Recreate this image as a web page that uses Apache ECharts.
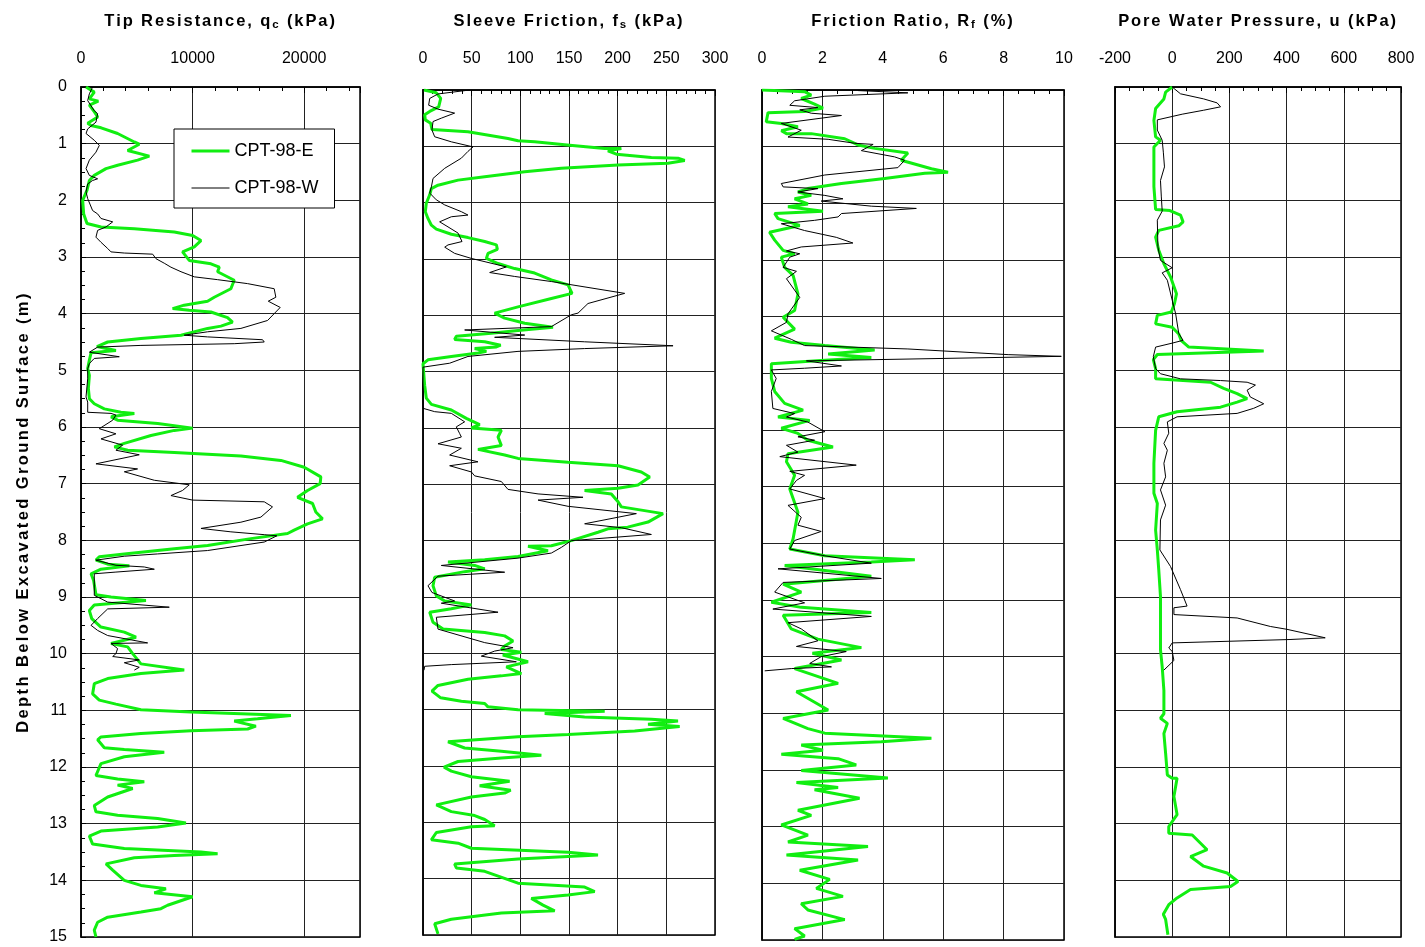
<!DOCTYPE html>
<html><head><meta charset="utf-8">
<script src="https://cdn.jsdelivr.net/npm/echarts@6/dist/echarts.min.js"></script>
<style>html,body{margin:0;padding:0;background:#fff}#c{width:1425px;height:947px}</style>
</head><body><div id="c"></div>
<script>
// ---------------- DATA ----------------
const seriesNames = ['CPT-98-E', 'CPT-98-W'];
const depthAxis = {min: 0, max: 15, major: 1, minor: 0.25};
const xScales = [
  {min: 0, max: 25000, major: 10000, minor: 2000},
  {min: 0, max: 300, major: 50, minor: 10},
  {min: 0, max: 10, major: 2, minor: 0.5},
  {min: -200, max: 800, major: 200, minor: 50}
];
const yAxisTitle = 'Depth Below Excavated Ground Surface (m)';

// Tip resistance qc (kPa) vs depth (m)
const qcE = [[450,0],[1190,0.09],[750,0.21],[1550,0.25],[750,0.32],[1200,0.44],[1500,0.53],[600,0.64],[900,0.68],[1800,0.72],[3280,0.82],[4780,0.97],[5220,1.01],[4180,1.12],[6120,1.22],[5070,1.29],[3280,1.38],[2240,1.44],[1190,1.56],[750,1.65],[540,1.82],[150,2.0],[240,2.24],[540,2.41],[1800,2.47],[4780,2.5],[8360,2.56],[10000,2.62],[10750,2.71],[10150,2.82],[9100,2.91],[9700,3.06],[11640,3.12],[12390,3.18],[12240,3.26],[13730,3.41],[13430,3.56],[11940,3.71],[11340,3.78],[9250,3.85],[8210,3.91],[9700,3.94],[11640,3.97],[13130,4.07],[13580,4.15],[12540,4.22],[11340,4.26],[8960,4.38],[5370,4.44],[2390,4.5],[1430,4.58],[3130,4.65],[900,4.69],[750,4.82],[600,4.97],[750,5.09],[660,5.32],[750,5.5],[1190,5.59],[2090,5.68],[3580,5.74],[4780,5.76],[2690,5.82],[3280,5.88],[6870,5.94],[10000,6.02],[8360,6.06],[6270,6.15],[3880,6.29],[2990,6.35],[4180,6.41],[8360,6.45],[14330,6.51],[17910,6.59],[20000,6.71],[21490,6.88],[21430,7.0],[20300,7.12],[19400,7.24],[20750,7.35],[21040,7.5],[21640,7.62],[20300,7.71],[19100,7.82],[18510,7.88],[15220,7.97],[11340,8.09],[8360,8.15],[3880,8.24],[1640,8.29],[1340,8.35],[2390,8.42],[4330,8.45],[1790,8.51],[900,8.59],[1130,8.71],[1250,8.85],[1340,8.96],[2690,9.0],[5820,9.06],[1190,9.14],[750,9.24],[960,9.38],[1790,9.53],[3880,9.62],[4930,9.71],[2690,9.82],[4180,9.88],[4630,10.0],[5370,10.18],[9250,10.29],[5370,10.35],[2390,10.44],[1190,10.53],[1040,10.71],[1640,10.82],[3130,10.89],[5370,10.99],[9850,11.03],[14330,11.06],[18810,11.09],[15820,11.15],[13730,11.19],[15670,11.28],[14930,11.33],[9850,11.36],[5370,11.41],[1790,11.47],[1490,11.52],[2090,11.66],[3880,11.69],[7460,11.74],[3880,11.82],[1790,11.94],[1340,12.15],[3280,12.21],[5670,12.26],[3280,12.32],[4630,12.38],[2390,12.53],[1190,12.68],[1340,12.79],[3280,12.85],[6870,12.91],[9400,12.99],[6870,13.06],[1790,13.13],[750,13.22],[1040,13.36],[3880,13.44],[10750,13.5],[12240,13.53],[8360,13.56],[4780,13.6],[2240,13.71],[2840,13.82],[3880,14.0],[5370,14.09],[7610,14.15],[6570,14.22],[10000,14.29],[7760,14.44],[7160,14.5],[5370,14.56],[2390,14.65],[1490,14.74],[1190,14.88],[1340,15.0]];
const qcW = [[1040,0],[750,0.12],[600,0.24],[1190,0.42],[1490,0.47],[1340,0.62],[600,0.74],[450,0.82],[1190,0.94],[1640,1.03],[1340,1.15],[750,1.29],[450,1.44],[750,1.56],[1490,1.62],[1040,1.65],[600,1.71],[450,1.85],[600,1.97],[1040,2.18],[1490,2.24],[1790,2.32],[2840,2.38],[2240,2.47],[1490,2.53],[1340,2.65],[1790,2.74],[2390,2.85],[2690,2.91],[3880,2.93],[6420,2.95],[6720,3.03],[7460,3.11],[8060,3.18],[8960,3.26],[10150,3.35],[12240,3.4],[14930,3.47],[17310,3.56],[17460,3.71],[16780,3.78],[17850,3.89],[17310,4.0],[16720,4.12],[14330,4.26],[11340,4.32],[9250,4.38],[11340,4.41],[16270,4.46],[16420,4.5],[13730,4.53],[5370,4.56],[1490,4.59],[750,4.68],[3430,4.76],[1190,4.79],[750,4.88],[600,4.97],[600,5.15],[450,5.47],[600,5.56],[600,5.74],[2690,5.76],[3130,5.79],[2840,5.88],[1640,6.03],[3130,6.12],[1790,6.21],[3730,6.32],[3130,6.41],[5220,6.49],[1340,6.65],[5070,6.74],[3880,6.79],[6570,6.94],[9700,7.02],[9100,7.12],[8060,7.21],[10000,7.29],[16420,7.32],[17160,7.41],[16120,7.59],[14330,7.68],[10750,7.79],[13430,7.85],[16420,7.9],[17550,7.92],[16420,8.03],[11340,8.18],[6870,8.24],[3880,8.28],[1340,8.35],[3130,8.44],[5670,8.47],[6570,8.51],[3130,8.56],[1190,8.59],[1190,8.97],[2390,9.09],[7910,9.18],[2390,9.21],[1490,9.38],[900,9.5],[1490,9.59],[2390,9.68],[5970,9.81],[2690,9.82],[3280,9.91],[3130,10.0],[2840,10.05],[5220,10.11],[3880,10.16],[5220,10.24],[4780,10.29]];

// Sleeve friction fs (kPa)
const fsE = [[1,0],[13.7,0.05],[18.2,0.15],[16.1,0.3],[6.9,0.38],[1.7,0.44],[2.4,0.53],[7.9,0.59],[9.2,0.7],[46.2,0.74],[87.3,0.86],[97.6,0.9],[114.7,0.92],[150.7,0.98],[186.7,1.04],[203.8,1.04],[190,1.08],[198.7,1.14],[234.6,1.2],[262,1.21],[268.9,1.25],[251.7,1.3],[200.4,1.33],[142.1,1.39],[104.5,1.45],[63.4,1.54],[36,1.6],[15.4,1.69],[8.6,1.75],[6.9,1.86],[3.4,2.01],[2.4,2.16],[5.1,2.28],[8.6,2.4],[13.7,2.47],[29.1,2.56],[46.2,2.62],[63.4,2.69],[75.4,2.75],[76.4,2.83],[66.8,2.9],[65.1,2.99],[77.1,3.08],[94.2,3.17],[114.7,3.25],[131.9,3.37],[149,3.46],[153.1,3.61],[131.9,3.7],[97.6,3.85],[73.6,3.96],[83.9,4.05],[104.5,4.14],[133.6,4.21],[97.6,4.27],[70.2,4.32],[34.3,4.37],[32.5,4.43],[63.4,4.47],[79.8,4.53],[75.4,4.56],[53.1,4.59],[65.1,4.64],[56.5,4.67],[29.1,4.73],[5.1,4.79],[0,4.86],[1.7,5.24],[3.4,5.47],[8.6,5.58],[29.1,5.68],[44.5,5.83],[58.2,5.94],[49.7,6.0],[80.5,6.04],[77.1,6.16],[80.5,6.31],[56.5,6.38],[83.9,6.48],[97.6,6.54],[149,6.61],[200.4,6.67],[224.3,6.78],[232.9,6.87],[220.9,7.01],[200.4,7.07],[166,7.11],[193.5,7.17],[200.4,7.31],[203.8,7.4],[246.6,7.52],[231.2,7.67],[210.3,7.76],[190,7.79],[179.8,7.85],[152.4,8.0],[131.9,8.09],[107.9,8.1],[128.4,8.18],[97.6,8.28],[63.4,8.34],[25.7,8.38],[53.1,8.44],[63.4,8.5],[42.8,8.55],[12,8.65],[10.3,8.8],[13.7,8.98],[22.3,9.07],[49.7,9.14],[29.1,9.21],[6.9,9.27],[10.3,9.45],[20.6,9.57],[63.4,9.63],[83.9,9.69],[92.5,9.78],[83.9,9.87],[80.5,9.93],[101,9.98],[82,10.03],[107.9,10.15],[85.6,10.24],[101,10.36],[80.5,10.4],[46.2,10.46],[15.4,10.57],[9.2,10.67],[18.2,10.79],[39.4,10.85],[63.4,10.89],[66.8,10.95],[97.6,11.0],[186.7,11.03],[125,11.07],[166,11.13],[234.6,11.17],[262,11.2],[231.2,11.26],[263.7,11.3],[217.5,11.38],[149,11.44],[97.6,11.48],[25.7,11.57],[42.8,11.68],[80.5,11.74],[121.6,11.81],[80.5,11.86],[36,11.92],[21.6,12.02],[29.1,12.09],[49.7,12.19],[89,12.27],[58.2,12.35],[90.1,12.43],[83.9,12.48],[49.7,12.55],[13.7,12.69],[29.1,12.81],[53.1,12.88],[63.4,12.95],[73.6,13.06],[49.7,13.08],[13.7,13.18],[8.6,13.31],[36,13.37],[49.7,13.46],[149,13.53],[179.8,13.58],[97.6,13.65],[32.5,13.74],[34.3,13.81],[63.4,13.87],[97.6,14.08],[166.1,14.15],[176.4,14.23],[149,14.29],[111.3,14.35],[123.3,14.47],[135.3,14.57],[80.5,14.61],[29.1,14.72],[12,14.8],[15.4,14.98]];
const fsW = [[48,0],[15.4,0.07],[6.9,0.15],[5.8,0.27],[15.4,0.34],[32.5,0.41],[18.8,0.5],[10.3,0.56],[9.2,0.71],[12,0.83],[29.1,0.92],[51.4,1.01],[46.2,1.09],[39.4,1.21],[22.3,1.39],[10.3,1.57],[8.6,1.72],[6.9,1.83],[13.7,1.95],[22.3,2.04],[39.4,2.16],[46.2,2.22],[29.1,2.25],[17.1,2.34],[25.7,2.43],[36,2.54],[40.1,2.69],[25.7,2.75],[22.3,2.79],[32.5,2.9],[49.7,2.99],[85.6,3.14],[68.5,3.24],[94.2,3.31],[131.9,3.4],[207.2,3.61],[169.5,3.79],[159.3,3.96],[152.4,3.99],[131.9,4.2],[42.8,4.26],[104.5,4.35],[73.6,4.39],[166.1,4.47],[256.9,4.54],[166.1,4.59],[97.6,4.64],[46.2,4.73],[27.4,4.85],[0,4.92],[0,5.65],[12,5.71],[29.1,5.74],[42.8,5.89],[34.2,5.98],[37.7,6.1],[39.4,6.16],[15.4,6.28],[39.4,6.36],[27.4,6.48],[56.5,6.6],[27.4,6.67],[49.7,6.78],[53.1,6.85],[80.5,6.95],[87.3,7.09],[118.2,7.17],[164.4,7.23],[118.2,7.28],[149,7.39],[219.2,7.52],[166.1,7.7],[203.8,7.77],[234.6,7.89],[152.4,8.0],[142.1,8.12],[131.9,8.22],[97.6,8.31],[18.8,8.44],[83.9,8.56],[15.4,8.63],[5.1,8.8],[9.2,8.92],[32.5,9.07],[18.8,9.11],[77.1,9.27],[13.7,9.36],[15.4,9.57],[63.4,9.81],[92.5,9.9],[73.6,9.96],[59.9,10.05],[95.9,10.15],[29.1,10.2],[1.7,10.23],[1,10.3]];

// Friction ratio Rf (%)
const rfE = [[0,0],[1.41,0.03],[1.63,0.09],[1.3,0.15],[1.74,0.25],[2.02,0.32],[1.41,0.38],[0.2,0.4],[0.14,0.56],[0.64,0.59],[1.19,0.65],[0.64,0.72],[0.81,0.77],[1.63,0.77],[2.74,0.86],[3.18,0.97],[3.73,1.03],[4.83,1.11],[4.61,1.24],[5.61,1.39],[6.16,1.45],[5.39,1.47],[4.06,1.56],[2.63,1.65],[1.52,1.74],[1.19,1.8],[1.63,1.86],[1.08,1.92],[1.52,2.01],[0.86,2.06],[2.02,2.14],[0.42,2.18],[0.53,2.27],[1.25,2.39],[0.25,2.51],[0.42,2.65],[0.7,2.83],[1.08,2.89],[0.64,2.95],[0.75,3.13],[1.03,3.27],[1.19,3.6],[1.08,3.89],[0.7,4.01],[1.08,4.22],[0.42,4.38],[0.97,4.45],[2.08,4.51],[3.73,4.59],[2.19,4.66],[3.62,4.72],[2.08,4.77],[0.31,4.83],[0.31,4.93],[0.31,5.09],[0.42,5.32],[0.75,5.53],[1.36,5.65],[0.53,5.77],[1.58,5.83],[0.64,5.97],[1.19,6.06],[1.52,6.18],[2.35,6.3],[0.86,6.42],[0.81,6.56],[1.08,6.8],[0.92,7.04],[1.19,7.45],[1.03,7.92],[0.92,8.1],[2.08,8.22],[5.06,8.29],[3.62,8.33],[0.75,8.39],[3.62,8.58],[0.7,8.72],[1.3,8.86],[0.31,9.04],[1.3,9.13],[3.62,9.22],[0.7,9.27],[0.97,9.51],[1.85,9.69],[3.29,9.84],[1.67,9.94],[2.63,10.06],[1.08,10.21],[2.52,10.47],[1.14,10.62],[2.19,10.94],[0.7,11.09],[1.52,11.27],[2.08,11.35],[5.61,11.44],[3.95,11.5],[1.3,11.56],[2.02,11.65],[0.64,11.72],[2.52,11.8],[3.12,11.91],[1.3,12.01],[4.17,12.14],[1.14,12.22],[2.52,12.31],[1.74,12.35],[3.23,12.5],[1.19,12.71],[1.63,12.8],[0.64,12.97],[1.52,13.15],[0.86,13.27],[3.51,13.35],[0.81,13.5],[3.18,13.59],[1.25,13.77],[2.24,13.93],[1.8,14.09],[2.68,14.23],[1.3,14.36],[1.52,14.47],[2.74,14.64],[1.08,14.8],[1.41,14.93],[1.08,14.99]];
const rfW = [[3.18,0.01],[4.83,0.05],[2.08,0.11],[1.08,0.19],[0.92,0.27],[1.85,0.31],[1.25,0.35],[1.63,0.41],[2.63,0.45],[0.64,0.59],[1.3,0.71],[0.86,0.83],[2.19,0.87],[3.07,0.94],[3.68,0.96],[3.29,1.07],[4.39,1.18],[4.72,1.24],[4.5,1.37],[2.08,1.5],[0.64,1.65],[0.7,1.71],[1.85,1.74],[1.19,1.8],[2.08,1.86],[2.68,1.92],[1.96,1.96],[3.62,2.05],[5.11,2.09],[2.63,2.18],[2.52,2.24],[1.74,2.3],[0.64,2.36],[1.41,2.48],[2.46,2.6],[3.01,2.7],[1.3,2.77],[0.81,2.84],[1.25,2.89],[0.92,2.95],[0.7,3.13],[1.14,3.2],[0.81,3.33],[1.25,3.66],[0.86,3.95],[0.81,4.1],[0.31,4.25],[0.97,4.4],[1.41,4.51],[4.83,4.57],[8.15,4.67],[9.91,4.7],[1.47,4.78],[2.63,4.87],[1.41,4.91],[0.31,4.94],[0.47,5.09],[0.31,5.32],[0.36,5.62],[1.08,5.71],[0.81,5.77],[1.52,5.86],[2.08,6.03],[1.19,6.12],[1.74,6.18],[0.81,6.27],[1.19,6.39],[0.59,6.47],[3.12,6.62],[0.92,6.73],[1.41,6.8],[1.14,6.89],[0.92,7.04],[2.08,7.21],[0.86,7.33],[1.3,7.54],[1.19,7.68],[1.96,7.79],[1.08,7.95],[0.92,8.1],[2.08,8.22],[3.62,8.35],[0.53,8.45],[3.95,8.62],[0.7,8.69],[0.42,8.86],[1.41,9.05],[0.36,9.16],[3.62,9.29],[0.86,9.4],[1.3,9.51],[1.85,9.72],[1.14,9.82],[2.79,9.91],[1.96,10.0],[1.58,10.12],[2.3,10.18],[0.97,10.21],[0.09,10.25]];

// Pore water pressure u (kPa)
const uE = [[0,0],[-23,0.09],[-29,0.21],[-58,0.38],[-64,0.59],[-58,0.88],[-41,0.94],[-64,1.06],[-64,1.41],[-64,1.76],[-58,2.16],[-8,2.18],[29,2.26],[38,2.38],[23,2.45],[-47,2.53],[-58,2.65],[-47,2.88],[-29,3.12],[-6,3.35],[15,3.65],[8,3.82],[-3,3.97],[-52,4.03],[-58,4.18],[0,4.24],[23,4.36],[31,4.47],[58,4.59],[320,4.66],[-52,4.72],[-66,4.81],[-58,4.97],[-58,5.15],[134,5.21],[180,5.32],[227,5.41],[262,5.5],[227,5.56],[169,5.65],[17,5.73],[-47,5.82],[-58,6.06],[-64,6.64],[-64,7.17],[-52,7.35],[-58,7.82],[-52,8.17],[-47,8.52],[-41,8.99],[-41,9.46],[-41,9.93],[-35,10.23],[-29,10.65],[-29,11.06],[-41,11.14],[-17,11.23],[-29,11.41],[-23,11.76],[-17,12.14],[0,12.2],[17,12.2],[6,12.52],[17,12.84],[-12,13.05],[-12,13.17],[70,13.2],[122,13.46],[64,13.58],[110,13.75],[192,13.87],[230,14.02],[204,14.11],[64,14.16],[17,14.31],[-12,14.43],[-31,14.6],[-23,14.69],[-15,14.96]];
const uW = [[0,0],[29,0.12],[110,0.21],[157,0.28],[169,0.35],[110,0.41],[35,0.48],[-52,0.58],[-52,0.76],[-35,0.94],[-31,1.15],[-27,1.41],[-41,1.65],[-38,1.94],[-35,2.19],[-52,2.35],[-50,2.82],[-41,3.06],[0,3.19],[-35,3.28],[-17,3.41],[0,3.76],[12,4.0],[23,4.35],[38,4.47],[0,4.52],[-58,4.59],[-66,4.76],[-58,4.97],[-41,5.06],[29,5.15],[169,5.18],[262,5.21],[291,5.26],[262,5.35],[273,5.47],[320,5.59],[285,5.67],[227,5.76],[17,5.82],[-17,5.91],[-12,6.11],[-29,6.29],[-17,6.41],[-29,6.64],[-23,6.88],[-41,7.11],[-23,7.38],[-41,7.64],[-43,8.17],[-6,8.46],[29,8.87],[52,9.16],[6,9.19],[6,9.31],[227,9.37],[343,9.52],[401,9.57],[535,9.72],[412,9.75],[0,9.81],[-12,9.9],[0,9.96],[6,10.12],[-29,10.29]];

const panelData = [[qcE, qcW], [fsE, fsW], [rfE, rfW], [uE, uW]];
const panelTitles = [
  ['Tip Resistance, q', 'c', ' (kPa)'],
  ['Sleeve Friction, f', 's', ' (kPa)'],
  ['Friction Ratio, R', 'f', ' (%)'],
  ['Pore Water Pressure, u (kPa)', '', '']
];

// ---------------- LAYOUT / STYLE ----------------
const FONT = '"Liberation Sans", Arial, sans-serif';
const GREEN = '#11ee11';
const grids = [
  {left: 81, top: 87, width: 279, height: 850},
  {left: 423, top: 90, width: 292, height: 845},
  {left: 762, top: 90, width: 302, height: 850},
  {left: 1115, top: 87, width: 286, height: 850}
];
// split a string into one rich fragment per character (emulates letter spacing)
const spaced = (str, key) => Array.from(str).map(ch => '{' + key + '|' + ch + '}').join('');
const boldRich = {
  b: {fontSize: 16.5, fontWeight: 'bold', fontFamily: FONT, color: '#000', padding: [0, 1.9, 0, 0], lineHeight: 20},
  s: {fontSize: 11.5, fontWeight: 'bold', fontFamily: FONT, color: '#000', padding: [0, 1.9, 0, 0], verticalAlign: 'bottom', lineHeight: 8}
};
const nameRich = {
  b: {fontSize: 16.5, fontWeight: 'bold', fontFamily: FONT, color: '#000', padding: [0, 2.4, 0, 0], lineHeight: 20}
};

const xAxis = [], yAxis = [], series = [], graphic = [];
grids.forEach((g, i) => {
  const s = xScales[i];
  xAxis.push({
    gridIndex: i, type: 'value', position: 'top', min: s.min, max: s.max, interval: s.major,
    axisLine: {show: true, onZero: false, lineStyle: {color: '#000', width: 1.5}},
    axisTick: {show: true, inside: true, length: 6, lineStyle: {color: '#000'}},
    axisLabel: {fontSize: 16, color: '#000', fontFamily: FONT, margin: 20 + (g.top - 87),
      formatter: v => (Math.abs(v % s.major) < 1e-9 ? String(v) : '')},
    splitLine: {show: true, lineStyle: {color: '#222', width: 1}}
  });
  xAxis.push({
    gridIndex: i, type: 'value', position: 'top', min: s.min, max: s.max, interval: s.minor,
    axisLine: {show: false}, axisLabel: {show: false}, splitLine: {show: false},
    axisTick: {show: true, inside: true, length: 4, lineStyle: {color: '#000'}}
  });
  yAxis.push({
    gridIndex: i, type: 'value', inverse: true, min: depthAxis.min, max: depthAxis.max, interval: depthAxis.major,
    axisLine: {show: true, onZero: false, lineStyle: {color: '#000', width: 1.5}},
    axisTick: {show: i === 0, inside: true, length: 5, lineStyle: {color: '#000'}},
    minorTick: {show: i === 0, splitNumber: 4, length: 4, lineStyle: {color: '#000'}},
    axisLabel: {show: i === 0, fontSize: 16, color: '#000', fontFamily: FONT, margin: 14},
    splitLine: {show: true, lineStyle: {color: '#222', width: 1}},
    name: i === 0 ? spaced(yAxisTitle, 'b') : '', nameLocation: 'middle', nameGap: 48, nameRotate: 90,
    nameTextStyle: {rich: nameRich}
  });
  panelData[i].forEach((d, k) => {
    series.push({
      type: 'line', name: seriesNames[k], xAxisIndex: 2 * i, yAxisIndex: i, data: d,
      symbol: 'none', showSymbol: false, z: k === 0 ? 2 : 3,
      lineStyle: {color: k === 0 ? GREEN : '#000', width: k === 0 ? 3 : 1},
      itemStyle: {color: k === 0 ? GREEN : '#000'}
    });
  });
  const t = panelTitles[i];
  graphic.push({
    type: 'text', x: g.left + g.width / 2, y: 21,
    style: {
      text: spaced(t[0], 'b') + (t[1] ? spaced(t[1], 's') : '') + (t[2] ? spaced(t[2], 'b') : ''),
      align: 'center', verticalAlign: 'middle',
      rich: boldRich
    }
  });
});

const option = {
  animation: false,
  backgroundColor: '#fff',
  grid: grids.map(g => Object.assign({show: true, borderColor: '#000', borderWidth: 1.5, backgroundColor: 'transparent'}, g)),
  xAxis, yAxis, series, graphic,
  legend: {
    data: [
      {name: seriesNames[0], lineStyle: {color: GREEN, width: 3}},
      {name: seriesNames[1], lineStyle: {color: '#000', width: 1}}
    ],
    orient: 'vertical', left: 174, top: 129,
    backgroundColor: '#fff', borderColor: '#000', borderWidth: 1, borderRadius: 0,
    padding: [13, 16, 11, 16], itemGap: 19, itemWidth: 38, itemHeight: 14,
    itemStyle: {opacity: 0, borderWidth: 0},
    textStyle: {fontSize: 18, color: '#000', fontFamily: FONT}
  }
};
const chart = echarts.init(document.getElementById('c'));
chart.setOption(option);
</script>
</body></html>
